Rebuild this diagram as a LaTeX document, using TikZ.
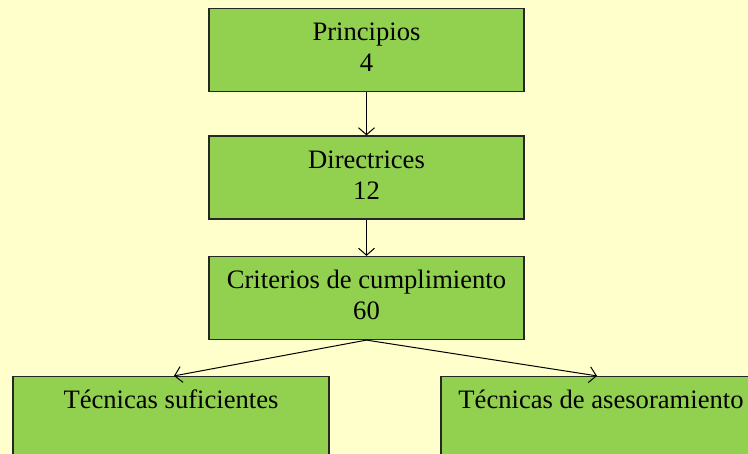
\documentclass[tikz,border=0pt]{standalone}
\usepackage{fontspec}
\setmainfont{Liberation Serif}
\usetikzlibrary{arrows.meta}
\definecolor{bgyellow}{HTML}{FFFFCC}
\definecolor{boxgreen}{HTML}{92D050}
\tikzset{
  level/.style={draw=black!85,line width=0.6pt,fill=boxgreen,align=center,inner sep=0pt,
    minimum height=41.5pt,font=\fontsize{13.3}{15.5}\selectfont},
  link/.style={-{Straight Barb[length=3.5pt,width=8pt]},line width=0.5pt}
}
\begin{document}
\begin{tikzpicture}[x=0.5pt,y=-0.5pt]
\fill [bgyellow] (0,0) rectangle (748,454);
\useasboundingbox (0,0) rectangle (748,454);
\node [level,minimum width=157.5pt] (P) at (366.5,50) {\strut Principios\\\strut 4};
\node [level,minimum width=157.5pt] (D) at (366.5,177.5) {\strut Directrices\\\strut 12};
\node [level,minimum width=157.5pt] (C) at (366.5,298) {\strut Criterios de cumplimiento\\\strut 60};
\node [level,minimum width=158pt] (S) at (171,418) {\strut Técnicas suficientes\\\strut};
\node [level,minimum width=160pt] (A) at (601,418) {\strut Técnicas de asesoramiento\\\strut};
\draw [link] (P) -- (D);
\draw [link] (D) -- (C);
\draw [link] (C.south) -- ([xshift=1.5pt]S.north);
\draw [link] (C.south) -- ([xshift=-2pt]A.north);
\end{tikzpicture}
\end{document}
